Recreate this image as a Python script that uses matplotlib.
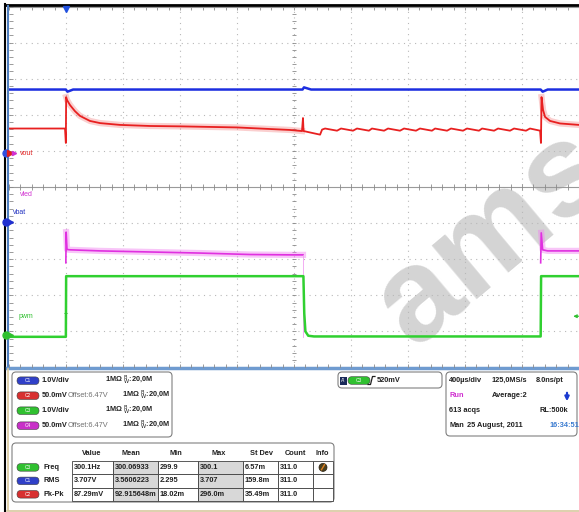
import numpy as np
import matplotlib.pyplot as plt
from matplotlib.patches import FancyBboxPatch, Rectangle, Circle

plt.rcParams['font.family'] = ['Liberation Sans', 'DejaVu Sans']

# Waveforms: time in ms (400us/div, 10 div), level in screen divisions (0..10)
vbat_t = [0.0, 0.399, 0.41, 0.45, 2.06, 2.07, 2.12, 3.731, 3.745, 3.78, 4.0]
vbat_v = [7.70, 7.70, 7.64, 7.70, 7.70, 7.76, 7.70, 7.70, 7.64, 7.70, 7.70]

vout_t = [0.0, 0.393, 0.399, 0.401, 0.407, 0.428, 0.463, 0.498, 0.568, 0.639, 0.779,
          0.990, 1.20, 1.60, 1.972, 2.056, 2.063, 2.067, 2.183, 2.197,
          2.218, 2.302, 2.330, 2.414, 2.442, 2.526, 2.547, 2.632, 2.660, 2.744,
          2.772, 2.856, 2.884, 2.968, 2.990, 3.074, 3.102, 3.186, 3.214, 3.298,
          3.320, 3.404, 3.432, 3.516, 3.544, 3.628, 3.656, 3.727,
          3.733, 3.737, 3.748, 3.762, 3.797, 3.867, 4.0]
vout_v = [6.62, 6.62, 6.22, 7.49, 7.41, 7.27, 7.10, 6.97, 6.83, 6.77, 6.72,
          6.69, 6.68, 6.65, 6.58, 6.55, 6.91, 6.55, 6.45, 6.59,
          6.62, 6.56, 6.62, 6.56, 6.62, 6.56, 6.62, 6.56, 6.62, 6.56,
          6.62, 6.56, 6.62, 6.56, 6.62, 6.56, 6.62, 6.56, 6.62, 6.56,
          6.62, 6.56, 6.62, 6.56, 6.62, 6.56, 6.62, 6.56,
          6.22, 7.49, 7.13, 6.94, 6.83, 6.76, 6.72]

vled1_t = [0.399, 0.401, 0.407, 0.428, 0.639, 0.990, 1.340, 1.691, 1.972, 2.063]
vled1_v = [2.90, 3.75, 3.27, 3.26, 3.23, 3.20, 3.17, 3.13, 3.12, 3.12]
vled2_t = [3.731, 3.735, 3.745, 3.78, 4.0]
vled2_v = [2.90, 3.73, 3.26, 3.23, 3.23]

pwm_t = [0.0, 0.399, 0.401, 2.066, 2.072, 2.08, 2.10, 2.14, 3.731, 3.734, 4.0]
pwm_v = [0.85, 0.85, 2.53, 2.53, 1.5, 1.0, 0.88, 0.86, 0.86, 2.53, 2.53]

# ground markers / trigger (divisions)
vout_gnd = 5.94
vbat_gnd = 4.03
pwm_gnd = 0.90
trig_t = 0.4
trig_level = 0.52  # 520mV at 1V/div

# readouts
ch_colors = {'C1': '#3040c8', 'C2': '#d83030', 'C3': '#30c030', 'C4': '#c830c8'}
setup_ch = ['C1', 'C2', 'C3', 'C4']
setup_scale = ['1.0V/div', '50.0mV', '1.0V/div', '50.0mV']
setup_offset = ['', 'Offset:6.47V', '', 'Offset:6.47V']

meas_ch = ['C3', 'C1', 'C2']
meas_name = ['Freq', 'RMS', 'Pk-Pk']
meas_head = ['Value', 'Mean', 'Min', 'Max', 'St Dev', 'Count', 'Info']
meas_vals = [['300.1Hz', '300.06933', '299.9', '300.1', '6.57m', '311.0', ''],
             ['3.707V', '3.5606223', '2.295', '3.707', '159.8m', '311.0', ''],
             ['87.29mV', '92.915648m', '18.02m', '296.0m', '35.49m', '311.0', '']]
col_edges = [72, 113, 158, 198, 243, 278, 313, 333]
head_x = [92, 131, 176, 219, 262, 295, 322]

tb_rows = [['400µs/div', '125,0MS/s', '8.0ns/pt'],
           ['Run', 'Average:2', ''],
           ['613 acqs', '', 'RL:500k'],
           ['Man', '25 August, 2011', '16:34:51']]

fig = plt.figure(figsize=(5.79, 5.12), dpi=100)

# overlay in pixel coords (under the scope axes)
ov = fig.add_axes([0, 0, 1, 1], zorder=0)
ov.set_xlim(0, 579)
ov.set_ylim(512, 0)
ov.axis('off')

sc = fig.add_axes([9 / 579, (512 - 367.5) / 512, 570 / 579, 361 / 512], zorder=1)
sc.set_facecolor('none')
sc.set_xlim(0, 4.0)
sc.set_ylim(0, 10)
sc.set_xticks([])
sc.set_yticks([])
for s in sc.spines.values():
    s.set_visible(False)

# graticule
dotc = '#b8b8b8'
for x in np.arange(0.4, 3.7, 0.4):
    sc.axvline(x, color=dotc, lw=0.8, ls=(0, (1, 4)), zorder=0.5)
for y in [1, 2, 3, 4, 6, 7, 8, 9]:
    sc.axhline(y, color=dotc, lw=0.8, ls=(0, (1, 4)), zorder=0.5)
tickc = '#8a8a8a'
sc.axhline(5, color='#9a9a9a', lw=0.8, zorder=0.6)
sc.axhline(10, color='#9a9a9a', lw=0.8, zorder=0.6)
mx = np.arange(0, 4.001, 0.08)
my = np.arange(0, 10.001, 0.2)
sc.vlines(mx, 9.91, 10, color=tickc, lw=0.6)
sc.vlines(mx, 4.93, 5.07, color=tickc, lw=0.6)
sc.vlines(mx, 0, 0.09, color=tickc, lw=0.6)
sc.hlines(my, 0, 0.03, color=tickc, lw=0.6)
sc.hlines(my, 1.985, 2.015, color=tickc, lw=0.6)

# traces
sc.plot(vbat_t, vbat_v, color='#1c2ee0', lw=1.8, zorder=3)
sc.plot(vout_t[3:16], vout_v[3:16], color='#f06060', lw=4.5, alpha=0.3, zorder=3)
sc.plot(vout_t[49:], vout_v[49:], color='#f06060', lw=4.5, alpha=0.3, zorder=3)
sc.plot(vout_t, vout_v, color='#e82020', lw=1.3, zorder=3)
for tt, vv in [(vled1_t, vled1_v), (vled2_t, vled2_v)]:
    sc.plot(tt[1:], vv[1:], color='#f080f0', lw=4.5, alpha=0.45, zorder=3)
    sc.plot(tt, vv, color='#e030e0', lw=1.2, zorder=3)
sc.plot([vled1_t[-1], vled1_t[-1]], [vled1_v[-1], pwm_v[0]], color='#f0a0f0', lw=0.6, zorder=3)
sc.plot(pwm_t, pwm_v, color='#30d030', lw=1.8, zorder=3)

# channel markers and labels
sc.plot(-0.02, vout_gnd, marker='o', ms=5, color='#3050e0', clip_on=False, zorder=4)
sc.plot(0.01, vout_gnd, marker='>', ms=5, color='#e02020', clip_on=False, zorder=5)
sc.plot(0.035, vout_gnd, marker='>', ms=3, color='#d030d0', clip_on=False, zorder=5)
sc.plot(-0.02, vbat_gnd, marker='o', ms=5, color='#2030d0', clip_on=False, zorder=4)
sc.plot(0.01, vbat_gnd, marker='>', ms=5, color='#2030d0', clip_on=False, zorder=5)
sc.plot(-0.02, pwm_gnd, marker='o', ms=5, color='#30c030', clip_on=False, zorder=4)
sc.plot(0.01, pwm_gnd, marker='>', ms=4, color='#30c030', clip_on=False, zorder=5)
lab = dict(fontsize=5, va='center', zorder=5)
sc.text(0.077, vout_gnd, 'vout', color='#e02020', **lab)
sc.text(0.077, 4.78, 'vled', color='#d030d0', **lab)
sc.text(0.028, 4.30, 'vbat', color='#2030c0', **lab)
sc.text(0.07, pwm_gnd + trig_level, 'pwm', color='#30c030', **lab)
sc.text(trig_t, pwm_gnd + trig_level, 'T', color='#30c030', ha='center', **lab)
sc.plot(trig_t, 9.93, marker='v', ms=5, color='#2050e0', clip_on=False, zorder=5)
sc.annotate('', xy=(3.94, pwm_gnd + trig_level), xytext=(4.02, pwm_gnd + trig_level),
            arrowprops=dict(arrowstyle='-|>', color='#30c030', lw=0.8, mutation_scale=5),
            annotation_clip=False)

# screen frame
ov.plot([5, 5], [4, 512], color='black', lw=1.5)
ov.plot([5, 579], [5, 5], color='black', lw=2)
ov.plot([7.5, 7.5], [6, 368], color='#4f7fc0', lw=1.5)
ov.plot([7, 579], [367.8, 367.8], color='#6f9bd0', lw=2.5)
ov.plot([7.5, 7.5], [369, 510], color='#d8c8a0', lw=1.2)
ov.plot([7, 579], [510.5, 510.5], color='#d8c8a0', lw=1.2)

txt = dict(fontsize=5.3, fontweight='bold', va='center', color='#202020')


def pill(x, y, ch):
    ov.add_patch(FancyBboxPatch((x, y - 3.8), 22, 7.6, boxstyle='round,pad=0,rounding_size=3.8',
                                fc=ch_colors[ch], ec='#404040', lw=0.4))
    ov.text(x + 11, y, ch, fontsize=3.5, color='white', ha='center', va='center')


def box(x0, y0, x1, y1):
    ov.add_patch(FancyBboxPatch((x0, y0), x1 - x0, y1 - y0, boxstyle='round,pad=0,rounding_size=4',
                                fc='white', ec='#808080', lw=0.8))


# channel setup box
box(12, 372, 172, 437)
for i, ch in enumerate(setup_ch):
    y = 380.7 + 15 * i
    pill(17, y, ch)
    ov.text(42, y, setup_scale[i], **txt)
    if setup_offset[i]:
        ov.text(68, y, setup_offset[i], fontsize=5.3, va='center', color='#707070')
        bx = 122
    else:
        bx = 105
    ov.text(bx, y, r'1MΩ $^{\rm B}_{\rm W}$:20,0M', **txt)

# trigger box
box(338, 372, 442, 388)
ov.add_patch(Rectangle((340, 376.5), 7, 8, fc='#1a2a5a', ec='none'))
ov.text(343.5, 380.5, "A'", fontsize=3.5, color='white', ha='center', va='center')
pill(348, 380.5, 'C3')
ov.plot([368, 370.5, 372.5, 375], [384.5, 384.5, 376.5, 376.5], color='#202020', lw=0.9)
ov.text(377, 380.5, '520mV', **txt)

# timebase box
box(446, 372, 577, 436)
tb_x = [449, 492, 536]
for r, row in enumerate(tb_rows):
    y = 380.7 + 15 * r
    for c, s in enumerate(row):
        if not s:
            continue
        col = '#202020'
        x = tb_x[c]
        if s == 'Run':
            col = '#d030d0'
        if r == 3 and c == 1:
            x = 467
        if r == 3 and c == 2:
            x, col = 550, '#3a7bd0'
        if r == 2 and c == 2:
            x = 540
        ov.text(x, y, s, **{**txt, 'color': col})
ov.annotate('', xy=(567, 404), xytext=(567, 390),
            arrowprops=dict(arrowstyle='-|>', color='#1a3ad0', lw=1.6, mutation_scale=6))

# measurement table
box(12, 443, 334, 502)
for j, h in enumerate(meas_head):
    ov.text(head_x[j], 453.3, h, ha='center', **txt)
row_top = [460.7, 474.2, 487.6]
for i in range(3):
    y0 = row_top[i]
    yc = y0 + 6.7
    pill(17, yc, meas_ch[i])
    ov.text(44, yc, meas_name[i], **txt)
    for j in range(7):
        x0, x1 = col_edges[j], col_edges[j + 1]
        fc = '#d8d8d8' if j in (1, 3) else 'white'
        ov.add_patch(Rectangle((x0, y0), x1 - x0, 13.4, fc=fc, ec='#404040', lw=0.6))
        if meas_vals[i][j]:
            ov.text(x0 + 1.5, yc, meas_vals[i][j], **txt)
ov.add_patch(Circle((323, row_top[0] + 6.7), 4, fc='#4a4020', ec='#2a2010', lw=0.5))
ov.plot([321.5, 324.5], [row_top[0] + 9, row_top[0] + 4], color='#e08020', lw=1)

# watermark (under the traces, over the readout boxes)
ov.text(492, 238, 'ams', fontsize=95, fontweight='bold', color='#d4d4d4',
        rotation=40, ha='center', va='center', zorder=10)

fig.savefig('out.png', dpi=100)
